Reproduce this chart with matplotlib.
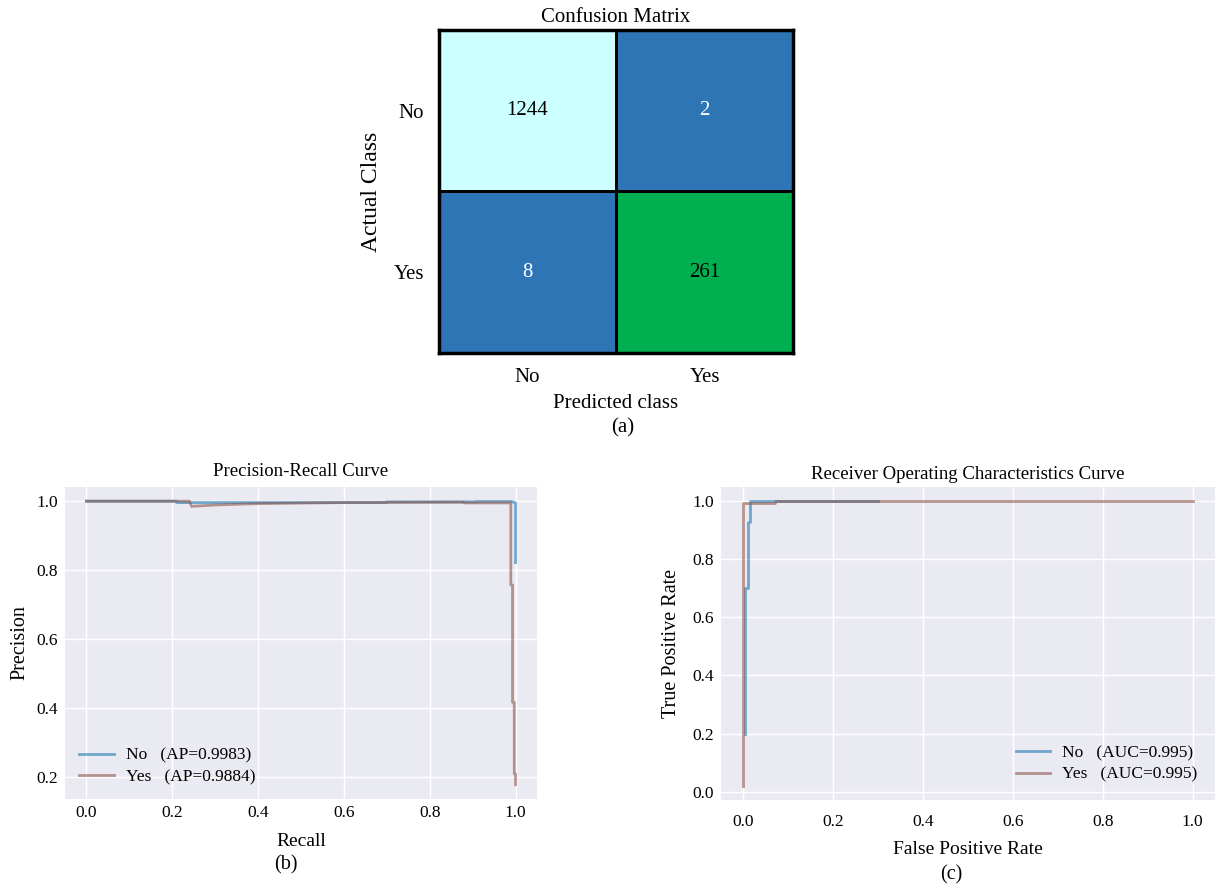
import numpy as np
import matplotlib
matplotlib.use('Agg')
import matplotlib.pyplot as plt
from matplotlib.colors import ListedColormap, BoundaryNorm

# ---------------- data ----------------
classes = ['No', 'Yes']
cm_values = [[1244, 2],
             [8, 261]]

pr_no_recall = [0.0, 0.21, 0.21, 0.70, 0.70, 0.91, 0.91, 0.99, 1.0, 1.0]
pr_no_precision = [1.0, 1.0, 0.996, 0.996, 0.998, 0.998, 0.999, 0.999, 0.995, 0.822]
pr_yes_recall = [0.0, 0.24, 0.245, 0.30, 0.40, 0.60, 0.88, 0.88, 0.989, 0.989,
                 0.993, 0.993, 0.997, 0.997, 1.0, 1.0]
pr_yes_precision = [1.0, 1.0, 0.985, 0.989, 0.993, 0.996, 0.997, 0.995, 0.995, 0.757,
                    0.757, 0.417, 0.417, 0.21, 0.21, 0.178]
ap_scores = [0.9983, 0.9884]

roc_no_fpr = [0.003, 0.003, 0.011, 0.011, 0.015, 0.015, 0.30]
roc_no_tpr = [0.20, 0.70, 0.70, 0.93, 0.93, 1.0, 1.0]
roc_yes_fpr = [0.0, 0.0, 0.07, 0.07, 1.0]
roc_yes_tpr = [0.02, 0.995, 0.995, 1.0, 1.0]
auc_scores = [0.995, 0.995]

# ---------------- style ----------------
plt.rcParams['font.family'] = ['Liberation Serif', 'DejaVu Serif']

W, H = 1230, 888
fig = plt.figure(figsize=(W / 100, H / 100), dpi=100)


def px_axes(left, top, right, bottom):
    return fig.add_axes([left / W, 1 - bottom / H, (right - left) / W, (bottom - top) / H])


BG = '#EAEAF2'
C_NO = '#1f77b4'
C_YES = '#8c564b'

# ---------------- confusion matrix ----------------
ax_cm = px_axes(439, 30, 793, 353)
cmap = ListedColormap(['#2E75B6', '#00B050', '#CCFFFF'])
norm = BoundaryNorm([0, 100, 1000, 5000], cmap.N)
arr = np.array(cm_values)
ax_cm.pcolormesh(arr, cmap=cmap, norm=norm, edgecolors='black', linewidth=2)
ax_cm.set_xlim(0, 2)
ax_cm.set_ylim(2, 0)
for i in range(2):
    for j in range(2):
        v = arr[i, j]
        col = 'white' if v < 100 else 'black'
        ax_cm.text(j + 0.5, i + 0.5, str(v), ha='center', va='center', fontsize=15, color=col)
ax_cm.set_xticks([0.5, 1.5])
ax_cm.set_xticklabels(classes, fontsize=15)
ax_cm.set_yticks([0.5, 1.5])
ax_cm.set_yticklabels(classes, fontsize=15)
ax_cm.tick_params(length=0, pad=11)
for s in ax_cm.spines.values():
    s.set_color('black')
    s.set_linewidth(2.5)
ax_cm.set_title('Confusion Matrix', fontsize=15, pad=6)
ax_cm.set_xlabel('Predicted class', fontsize=15, labelpad=5)
ax_cm.set_ylabel('Actual Class', fontsize=17, labelpad=8)
fig.text(623 / W, 1 - 428 / H, '(a)', ha='center', va='center', fontsize=15)


def style_axes(ax):
    ax.set_facecolor(BG)
    ax.grid(True, color='white', linewidth=1)
    ax.set_axisbelow(True)
    for s in ax.spines.values():
        s.set_visible(False)
    ax.tick_params(length=0, labelsize=12.5)


# ---------------- PR curve ----------------
ax_pr = px_axes(65, 487, 537, 799)
style_axes(ax_pr)
ax_pr.plot(pr_no_recall, pr_no_precision, color=C_NO, alpha=0.6, lw=2,
           label=f'No   (AP={ap_scores[0]:.4f})')
ax_pr.plot(pr_yes_recall, pr_yes_precision, color=C_YES, alpha=0.6, lw=2,
           label=f'Yes   (AP={ap_scores[1]:.4f})')
ax_pr.tick_params(axis='x', pad=4)
ax_pr.tick_params(axis='y', pad=5)
ax_pr.set_title('Precision-Recall Curve', fontsize=13.5, pad=8)
ax_pr.set_xlabel('Recall', fontsize=14, labelpad=9)
ax_pr.set_ylabel('Precision', fontsize=14.5, labelpad=5)
ax_pr.legend(loc='lower left', frameon=False, fontsize=12.5, handlelength=2,
             handletextpad=0.7, labelspacing=0.3, borderaxespad=0.4)
fig.text(286 / W, 1 - 865 / H, '(b)', ha='center', va='center', fontsize=14.5)

# ---------------- ROC curve ----------------
ax_roc = px_axes(721, 487, 1215, 800)
style_axes(ax_roc)
ax_roc.plot(roc_no_fpr, roc_no_tpr, color=C_NO, alpha=0.6, lw=2,
            label=f'No   (AUC={auc_scores[0]:.3f})')
ax_roc.plot(roc_yes_fpr, roc_yes_tpr, color=C_YES, alpha=0.6, lw=2,
            label=f'Yes   (AUC={auc_scores[1]:.3f})')
ax_roc.tick_params(axis='x', pad=10)
ax_roc.tick_params(axis='y', pad=5)
ax_roc.set_title('Receiver Operating Characteristics Curve', fontsize=13.5, pad=6)
ax_roc.set_xlabel('False Positive Rate', fontsize=14, labelpad=8)
ax_roc.set_ylabel('True Positive Rate', fontsize=14.5, labelpad=8)
ax_roc.legend(loc='lower right', frameon=False, fontsize=12.5, handlelength=2,
              handletextpad=0.7, labelspacing=0.3, borderaxespad=0.6)
fig.text(951 / W, 1 - 875 / H, '(c)', ha='center', va='center', fontsize=14.5)

fig.savefig('out.png', dpi=100)
